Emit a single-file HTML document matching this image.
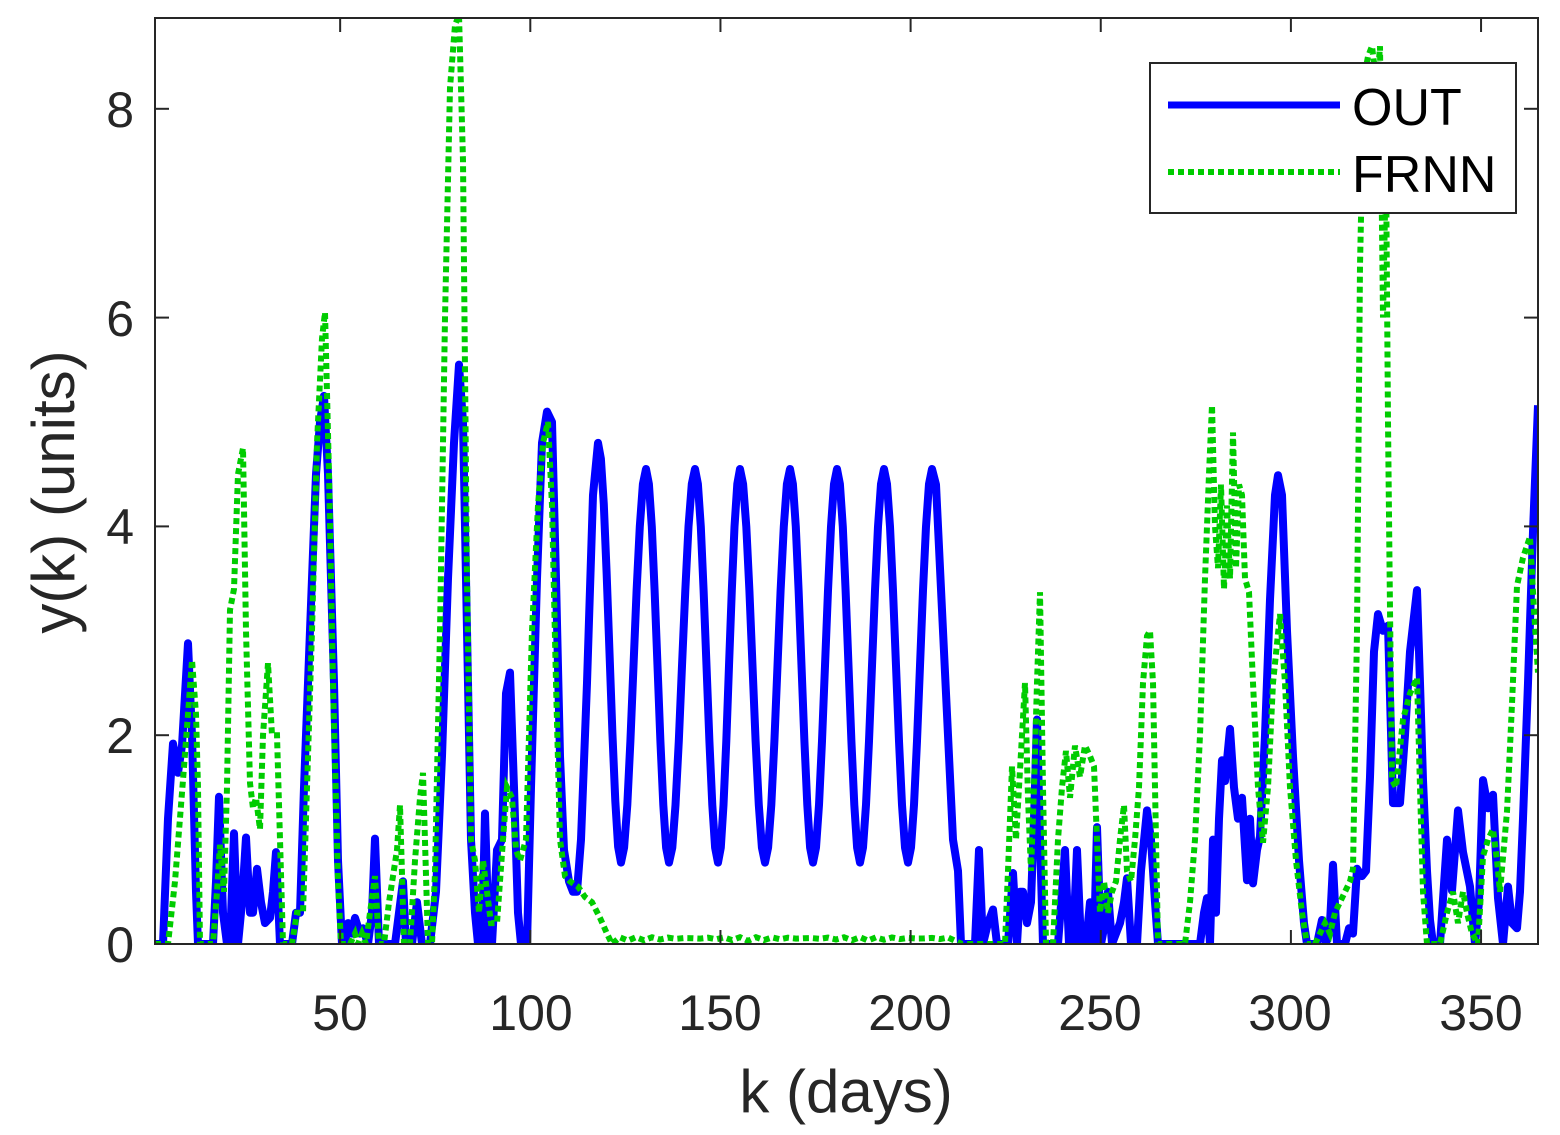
<!DOCTYPE html>
<html><head><meta charset="utf-8"><style>
html,body{margin:0;padding:0;background:#fff;}
svg{display:block;font-family:"Liberation Sans",Arial,sans-serif;}
</style></head><body>
<svg id="s" width="1560" height="1135" viewBox="0 0 1560 1135" xmlns="http://www.w3.org/2000/svg">
<rect width="1560" height="1135" fill="#fff"/>
<defs><clipPath id="c"><rect x="155" y="18" width="1383" height="927"/></clipPath></defs>
<g id="plot" clip-path="url(#c)"></g>
<rect x="155" y="18" width="1383" height="926" fill="none" stroke="#262626" stroke-width="2"/>
<g id="ticks" stroke="#262626" stroke-width="2"></g>
<g fill="#262626" font-size="50" text-anchor="end">
<text x="134" y="962">0</text><text x="134" y="753">2</text><text x="134" y="544">4</text><text x="134" y="336">6</text><text x="134" y="127">8</text>
</g>
<g fill="#262626" font-size="50" text-anchor="middle">
<text x="340" y="1030">50</text><text x="531" y="1030">100</text><text x="720" y="1030">150</text><text x="910" y="1030">200</text><text x="1100" y="1030">250</text><text x="1290" y="1030">300</text><text x="1481" y="1030">350</text>
</g>
<text x="846" y="1112" font-size="60" fill="#262626" text-anchor="middle">k (days)</text>
<text transform="translate(74,492) rotate(-90)" font-size="60" fill="#262626" text-anchor="middle">y(k) (units)</text>
<rect x="1150" y="63" width="366" height="150" fill="#fff" stroke="#262626" stroke-width="2"/>
<line x1="1168" y1="105" x2="1340" y2="105" stroke="#0000ff" stroke-width="7"/>
<line x1="1168" y1="172" x2="1340" y2="172" stroke="#00cc00" stroke-width="6" stroke-dasharray="6,4"/>
<text x="1352" y="125" font-size="52" fill="#000">OUT</text>
<text x="1352" y="192" font-size="52" fill="#000">FRNN</text>
</svg>
<script>
function Y(v){return 944-104.4*v;}
var blue=[[155,0],[163,0],[168,1.2],[173,1.92],[178,1.64],[182,1.9],[188,2.88],[192,2.0],[196,0.5],[198,0],[213,0],[216,0.6],[219,1.41],[223,0.3],[227,0],[230,0],[234,1.06],[238,0],[242,0.4],[246,1.02],[250,0.3],[253,0.3],[257,0.72],[261,0.4],[265,0.2],[270,0.25],[273,0.5],[276,0.88],[280,0],[292,0],[296,0.3],[300,0.3],[304,1.5],[310,3.0],[316,4.5],[320,5.0],[324,5.25],[328,4.5],[334,2.5],[338,0.8],[342,0],[345,0],[348,0.2],[352,0.1],[355,0.25],[360,0.1],[363,0.15],[368,0],[372,0.3],[375,1.01],[379,0],[395,0],[399,0.3],[403,0.6],[406,0],[412,0],[417,0.4],[422,0],[430,0],[436,0.5],[442,1.8],[448,3.5],[454,4.8],[459,5.55],[463,5.0],[467,3.0],[471,1.0],[475,0.3],[478,0],[482,0],[485,1.25],[489,0],[492,0],[497,0.9],[502,1.0],[506,2.4],[510,2.6],[514,1.5],[518,0.3],[521,0],[527,0],[531,1.5],[537,3.5],[542,4.8],[547,5.1],[552,5.0],[556,3.5],[560,1.8],[564,0.9],[569,0.6],[573,0.5],[577,0.5],[581,1.0],[587,2.5],[593,4.3],[598,4.8]];
var peaks=[646,695,740,790,837,884,932],tr=[621,669,718,765,813,860,908];
var prev=598,pv=4.8;
for(var i=0;i<tr.length;i++){var t=tr[i],p=peaks[i];
 for(var s=1;s<=8;s++){var x=prev+(t-prev)*s/8;blue.push([x,0.78+(pv-0.78)*(0.5+0.5*Math.cos(Math.PI*s/8))]);}
 for(var s=1;s<=8;s++){var x=t+(p-t)*s/8;blue.push([x,0.78+(4.55-0.78)*(0.5-0.5*Math.cos(Math.PI*s/8))]);}
 prev=p;pv=4.55;}
blue=blue.concat([[936,4.4],[942,3.2],[948,2.0],[953,1.0],[958,0.7],[961,0],[975,0],[979,0.9],[983,0],[988,0.2],[993,0.33],[997,0],[1008,0],[1013,0.68],[1017,0],[1020,0.5],[1023,0.5],[1027,0.2],[1031,0.4],[1034,1.2],[1037,2.15],[1040,1.0],[1043,0],[1058,0],[1062,0.5],[1065,0.9],[1069,0],[1073,0],[1077,0.9],[1081,0],[1086,0],[1090,0.4],[1094,0],[1097,1.12],[1101,0],[1105,0.2],[1108,0.5],[1112,0],[1120,0.2],[1124,0.4],[1127,0.63],[1131,0],[1137,0],[1141,0.7],[1147,1.28],[1151,1.0],[1155,0.4],[1158,0],[1200,0],[1204,0.3],[1207,0.44],[1210,0],[1213,1.0],[1216,0.3],[1219,1.2],[1222,1.76],[1225,1.56],[1230,2.06],[1234,1.5],[1238,1.2],[1242,1.4],[1247,0.61],[1250,1.2],[1253,0.58],[1257,0.9],[1260,1.03],[1265,2.0],[1270,3.3],[1275,4.3],[1278,4.49],[1282,4.3],[1287,3.0],[1293,1.8],[1299,0.8],[1304,0.2],[1307,0],[1317,0],[1322,0.23],[1326,0],[1330,0.2],[1333,0.76],[1337,0],[1345,0],[1349,0.15],[1353,0.1],[1357,0.72],[1362,0.65],[1366,0.7],[1370,1.6],[1374,2.8],[1378,3.16],[1383,3.0],[1388,3.05],[1393,1.35],[1400,1.35],[1405,2.0],[1410,2.8],[1417,3.39],[1420,2.5],[1423,1.57],[1427,0.7],[1430,0.23],[1433,0],[1440,0],[1447,1.0],[1452,0.51],[1458,1.28],[1463,0.88],[1470,0.55],[1475,0],[1479,0.4],[1483,1.57],[1488,1.3],[1493,1.43],[1498,0.44],[1503,0],[1508,0.55],[1512,0.2],[1517,0.15],[1520,0.5],[1523,1.2],[1528,2.5],[1533,3.95],[1538,5.16]]);
var green=[[155,0],[168,0],[175,0.6],[183,1.57],[188,2.2],[192,2.72],[196,2.2],[198,1.5],[200,0],[213,0],[217,0.5],[220,0.95],[224,0.5],[227,1.5],[230,3.2],[234,3.4],[238,4.5],[243,4.75],[246,3.0],[250,1.54],[253,1.3],[256,1.4],[260,1.1],[263,2.0],[268,2.69],[272,2.0],[277,2.0],[280,1.0],[283,0],[292,0],[297,0.3],[303,0.3],[307,1.5],[312,3.0],[317,4.8],[322,5.8],[325,6.05],[329,4.5],[333,2.5],[338,0.6],[341,0],[350,0],[355,0.1],[358,0],[362,0.1],[366,0],[370,0.3],[375,0.65],[379,0],[384,0],[389,0.4],[393,0.65],[397,0.9],[400,1.33],[404,0],[410,0],[415,0.8],[420,1.4],[423,1.64],[428,0],[432,0],[435,0.68],[440,3.0],[445,6.0],[450,8.2],[455,8.8],[459,8.9],[463,7.5],[467,3.5],[471,1.0],[475,0.8],[479,0.3],[483,0.8],[487,0.5],[491,0.2],[497,0.2],[503,1.0],[507,1.5],[512,1.4],[516,0.9],[520,0.8],[526,1.0],[532,3.0],[538,4.2],[543,4.8],[548,5.0],[552,4.2],[556,2.5],[560,1.0],[565,0.65],[570,0.6],[578,0.55],[585,0.45],[592,0.4],[600,0.25],[607,0.1],[612,0]];
for(var x=620;x<=952;x+=8){green.push([x,0.03+0.035*Math.abs(Math.sin(x*0.21))]);}
green=green.concat([[962,0],[1005,0],[1008,0.7],[1012,1.7],[1016,1.0],[1019,1.5],[1022,2.0],[1025,2.5],[1028,1.4],[1031,0.7],[1034,1.5],[1037,2.5],[1040,3.37],[1043,1.5],[1046,0],[1053,0],[1058,1.0],[1062,1.5],[1066,1.85],[1070,1.4],[1075,1.9],[1080,1.6],[1085,1.9],[1090,1.8],[1094,1.7],[1097,1.0],[1100,0.3],[1104,0.6],[1108,0.3],[1112,0.5],[1116,0.6],[1120,1.0],[1124,1.33],[1127,0.7],[1131,0.6],[1135,1.0],[1139,1.5],[1143,2.5],[1147,2.95],[1150,3.0],[1153,2.5],[1156,1.0],[1158,0],[1185,0],[1190,0.4],[1195,1.0],[1200,2.0],[1205,3.5],[1209,4.5],[1212,5.16],[1215,4.0],[1218,3.6],[1221,4.4],[1224,3.4],[1227,4.2],[1230,3.5],[1233,4.9],[1236,3.6],[1239,4.4],[1242,4.3],[1245,3.5],[1249,3.37],[1253,2.5],[1258,1.5],[1263,0.97],[1268,1.5],[1273,2.5],[1280,3.16],[1285,2.5],[1290,1.5],[1296,0.8],[1302,0.3],[1307,0],[1315,0],[1320,0.1],[1325,0.2],[1330,0.1],[1335,0.3],[1340,0.4],[1345,0.5],[1350,0.6],[1353,0.72],[1357,3.0],[1360,6.5],[1364,8.3],[1368,8.5],[1372,8.6],[1377,8.2],[1380,8.6],[1383,6.0],[1386,7.5],[1388,5.0],[1390,3.2],[1392,1.57],[1396,1.5],[1403,2.15],[1410,2.4],[1417,2.55],[1420,1.5],[1423,0.5],[1427,0],[1440,0],[1447,0.3],[1453,0.5],[1458,0.2],[1463,0.5],[1467,0.3],[1472,0.1],[1478,0],[1483,0.84],[1488,1.0],[1493,1.1],[1497,0.8],[1500,0.5],[1507,1.27],[1512,2.3],[1517,3.43],[1523,3.7],[1530,3.9],[1534,3.2],[1538,2.6]]);
function pts(a){return a.map(function(p){return p[0].toFixed(1)+","+Y(p[1]).toFixed(1);}).join(" ");}
var ns="http://www.w3.org/2000/svg",g=document.getElementById("plot");
var b=document.createElementNS(ns,"polyline");b.setAttribute("points",pts(blue));b.setAttribute("fill","none");b.setAttribute("stroke","#0000ff");b.setAttribute("stroke-width","8");b.setAttribute("stroke-linejoin","round");g.appendChild(b);
var gr=document.createElementNS(ns,"polyline");gr.setAttribute("points",pts(green));gr.setAttribute("fill","none");gr.setAttribute("stroke","#00cc00");gr.setAttribute("stroke-width","6");gr.setAttribute("stroke-dasharray","6,4");g.appendChild(gr);
var t=document.getElementById("ticks"),h="";
[0,2,4,6,8].forEach(function(v){var y=Y(v);h+='<line x1="155" y1="'+y+'" x2="169" y2="'+y+'"/><line x1="1538" y1="'+y+'" x2="1524" y2="'+y+'"/>';});
[50,100,150,200,250,300,350].forEach(function(d){var x=150+3.803*d;h+='<line x1="'+x+'" y1="944" x2="'+x+'" y2="930"/><line x1="'+x+'" y1="18" x2="'+x+'" y2="32"/>';});
t.innerHTML=h;
</script>
</body></html>
